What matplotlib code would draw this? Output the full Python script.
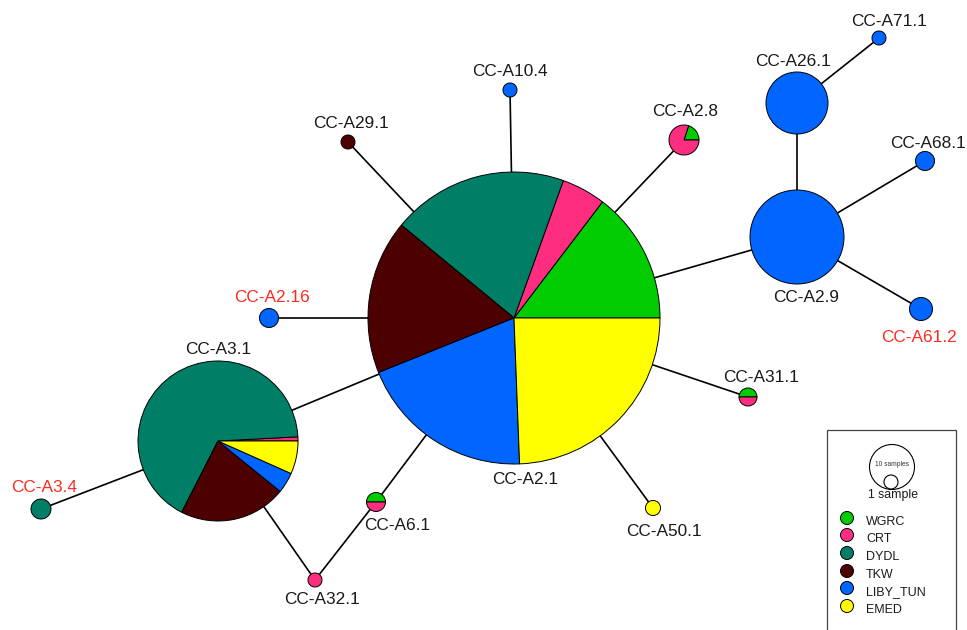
import matplotlib
matplotlib.use("Agg")
import matplotlib.pyplot as plt
from matplotlib.patches import Wedge, Circle, Rectangle

plt.rcParams['font.family'] = ['Liberation Sans', 'DejaVu Sans']

# ---------------- data ----------------
haplotypes = ["CC-A2.1", "CC-A3.1", "CC-A2.9", "CC-A26.1", "CC-A71.1", "CC-A68.1",
              "CC-A61.2", "CC-A10.4", "CC-A29.1", "CC-A2.8", "CC-A2.16", "CC-A31.1",
              "CC-A50.1", "CC-A6.1", "CC-A32.1", "CC-A3.4"]
groups = ["WGRC", "CRT", "DYDL", "TKW", "LIBY_TUN", "EMED"]
WGRC     = [6, 0,   0, 0, 0, 0, 0, 0, 0, 1, 0, 1, 0, 1, 0, 0]
CRT      = [2, 1,   0, 0, 0, 0, 0, 0, 0, 4, 0, 1, 0, 1, 1, 0]
DYDL     = [8, 80,  0, 0, 0, 0, 0, 0, 0, 0, 0, 0, 0, 0, 0, 1]
TKW      = [7, 26,  0, 0, 0, 0, 0, 0, 1, 0, 0, 0, 0, 0, 0, 0]
LIBY_TUN = [8, 5,  10, 5, 1, 1, 1, 1, 0, 0, 1, 0, 0, 0, 0, 0]
EMED     = [10, 8,  0, 0, 0, 0, 0, 0, 0, 0, 0, 0, 1, 0, 0, 0]
highlighted = ["CC-A2.16", "CC-A3.4", "CC-A61.2"]
links = [("CC-A2.1", "CC-A3.1"), ("CC-A2.1", "CC-A10.4"), ("CC-A2.1", "CC-A29.1"),
         ("CC-A2.1", "CC-A2.8"), ("CC-A2.1", "CC-A2.9"), ("CC-A2.1", "CC-A2.16"),
         ("CC-A2.1", "CC-A31.1"), ("CC-A2.1", "CC-A50.1"), ("CC-A2.1", "CC-A6.1"),
         ("CC-A6.1", "CC-A32.1"), ("CC-A3.1", "CC-A32.1"), ("CC-A3.1", "CC-A3.4"),
         ("CC-A2.9", "CC-A26.1"), ("CC-A2.9", "CC-A68.1"), ("CC-A2.9", "CC-A61.2"),
         ("CC-A26.1", "CC-A71.1")]

# ---------------- layout / style ----------------
colors = {"WGRC": "#00CC00", "CRT": "#FF2D7F", "DYDL": "#007F66",
          "TKW": "#4D0000", "LIBY_TUN": "#0066FF", "EMED": "#FFFF00"}
W, H = 967, 630
# node: (x, y from top, radius, label x, label y from top)
layout = {
    "CC-A2.1":  (514, 318, 146, 525, 479),
    "CC-A3.1":  (218, 441, 80, 218, 349),
    "CC-A2.9":  (797, 237, 47, 806, 297),
    "CC-A26.1": (797, 103, 31, 793, 61),
    "CC-A71.1": (879, 38, 7, 889, 21),
    "CC-A68.1": (925, 161, 9.5, 928, 143),
    "CC-A61.2": (921, 309, 11.5, 919, 338),
    "CC-A10.4": (510, 90, 7, 510, 71),
    "CC-A29.1": (348, 142, 7, 351, 124),
    "CC-A2.8":  (684, 140, 15, 685, 112),
    "CC-A2.16": (269, 318, 9.5, 272, 298),
    "CC-A31.1": (748, 397, 9, 761, 377),
    "CC-A50.1": (653, 508, 7.5, 664, 532),
    "CC-A6.1":  (376, 502, 9.5, 397, 525),
    "CC-A32.1": (315, 580, 7, 322, 600),
    "CC-A3.4":  (41, 509, 10, 44, 488),
}

fig = plt.figure(figsize=(9.67, 6.30), dpi=100)
ax = fig.add_axes([0, 0, 1, 1])
ax.set_xlim(0, W)
ax.set_ylim(0, H)
ax.set_aspect('equal')
ax.axis('off')

def pos(name):
    x, y, r, lx, ly = layout[name]
    return x, H - y

# links
for a, b in links:
    xa, ya = pos(a)
    xb, yb = pos(b)
    ax.plot([xa, xb], [ya, yb], color="black", lw=1.2, zorder=1, solid_capstyle='butt')

series = {"WGRC": WGRC, "CRT": CRT, "DYDL": DYDL, "TKW": TKW,
          "LIBY_TUN": LIBY_TUN, "EMED": EMED}

for i, name in enumerate(haplotypes):
    x, y, r, lx, ly = layout[name]
    cy = H - y
    counts = [series[g][i] for g in groups]
    total = sum(counts)
    ang = 0.0
    for g, c in zip(groups, counts):
        if c == 0:
            continue
        span = 360.0 * c / total
        ax.add_patch(Wedge((x, cy), r, ang, ang + span, facecolor=colors[g],
                           edgecolor="black", lw=0.7, zorder=2))
        ang += span
    tc = "#FF2A1F" if name in highlighted else "#1a1a1a"
    ax.text(lx, H - ly, name, ha="center", va="center", fontsize=12.4, color=tc, zorder=3)

# legend
ax.add_patch(Rectangle((827, H - 640), 129, 210, facecolor="white",
                       edgecolor="#444444", lw=0.9, zorder=4, clip_on=True))
ax.add_patch(Circle((892, H - 467), 22.5, facecolor="white", edgecolor="black", lw=0.8, zorder=5))
ax.add_patch(Circle((891, H - 482), 7, facecolor="white", edgecolor="black", lw=0.8, zorder=5))
ax.text(892, H - 464, "10 samples", ha="center", va="center", fontsize=4.8, color="#333333", zorder=6)
ax.text(893, H - 495, "1 sample", ha="center", va="center", fontsize=8.8, color="#1a1a1a", zorder=6)
leg_y = [518, 535, 553, 571, 588, 606]
for g, yy in zip(groups, leg_y):
    ax.add_patch(Circle((847, H - yy), 6.5, facecolor=colors[g], edgecolor="black", lw=0.7, zorder=5))
    ax.text(866, H - yy - 4, g, ha="left", va="center", fontsize=9, color="#1a1a1a", zorder=6)

fig.savefig("out.png", dpi=100)
